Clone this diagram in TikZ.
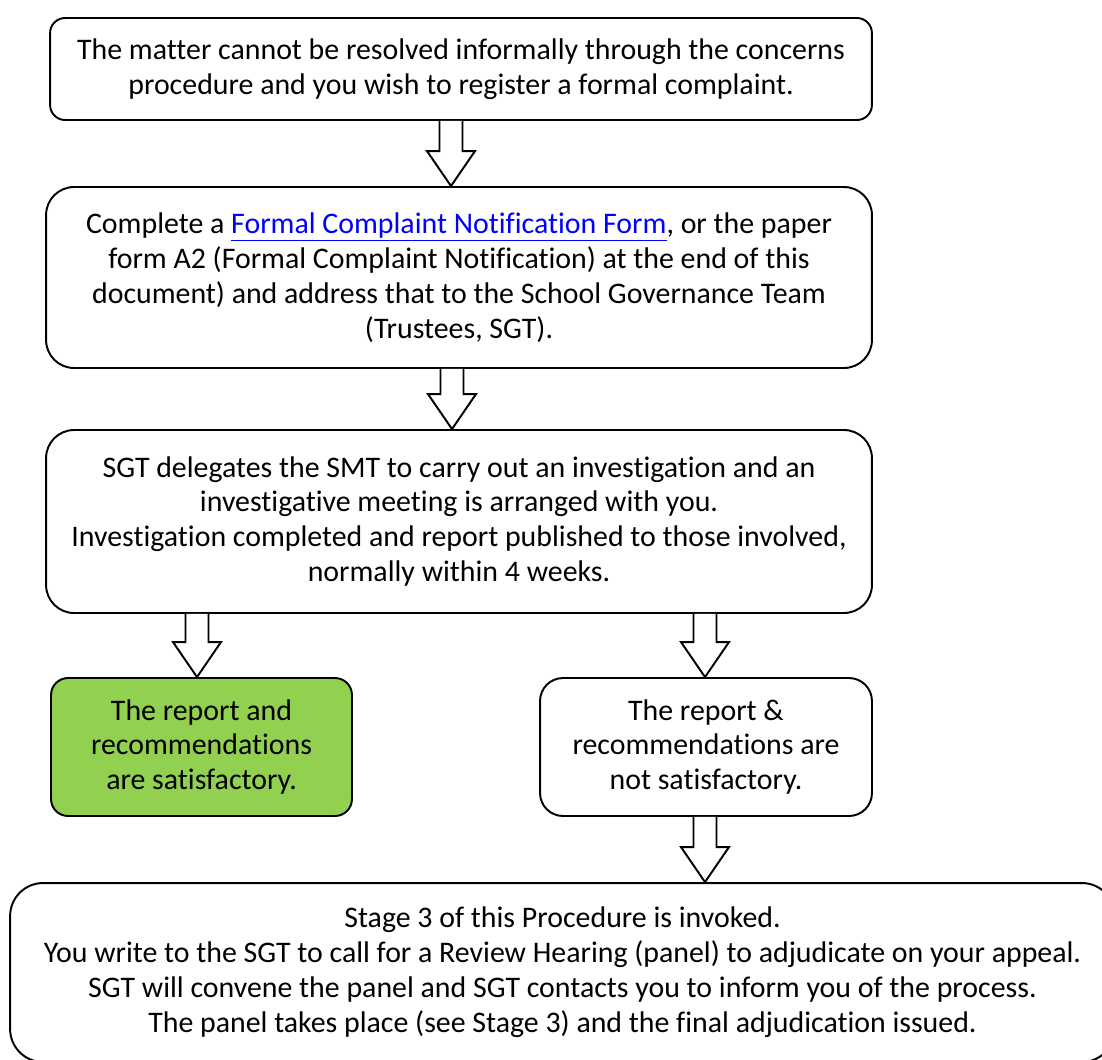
\documentclass[tikz,border=0pt]{standalone}
\usepackage{fontspec}
\setmainfont{Carlito}[Ligatures=NoCommon]
\usetikzlibrary{calc}

\definecolor{okgreen}{HTML}{92D050}
\definecolor{linkblue}{HTML}{0000FF}

\tikzset{
    stepbox/.style={draw, line width=1.1pt, rounded corners=#1, align=center, inner sep=0pt,
        font=\fontsize{17}{19.9}\selectfont},
    stepbox/.default=0.56cm,
    blockarrow/.style={draw, line width=1.1pt, fill=white, line join=miter},
}

% hollow down arrow from one box to the next, at x (px)
\newcommand{\flowarrow}[3]{%
    \draw[blockarrow] let \p1=(#1.south), \p2=(#2.north), \p3=(#3,0) in
        (\x3-0.23cm,\y1) -- (\x3-0.23cm,\y2+0.7cm) -- (\x3-0.48cm,\y2+0.7cm)
        -- (\x3,\y2) -- (\x3+0.48cm,\y2+0.7cm) -- (\x3+0.23cm,\y2+0.7cm)
        -- (\x3+0.23cm,\y1);
}
\newcommand{\weblink}[1]{\textcolor{linkblue}{\underline{#1}}}

\begin{document}
\begin{tikzpicture}[x=0.02cm, y=-0.02cm]
        \useasboundingbox (0,0) rectangle (1102,1059);

        \node[stepbox=0.3cm, minimum width=16.44cm, minimum height=2.04cm] (n1) at (461, 69)
            {The matter cannot be resolved informally through the concerns\\
             procedure and you wish to register a formal complaint.};
        \node[stepbox, minimum width=16.52cm, minimum height=3.62cm] (n2) at (459, 277.5)
            {Complete a \weblink{Formal Complaint Notification Form}, or the paper\\
             form A2 (Formal Complaint Notification) at the end of this\\
             document) and address that to the School Governance Team\\
             (Trustees, SGT).};
        \node[stepbox, minimum width=16.52cm, minimum height=3.66cm] (n3) at (459, 521.5)
            {SGT delegates the SMT to carry out an investigation and an\\
             investigative meeting is arranged with you.\\
             Investigation completed and report published to those involved,\\
             normally within 4 weeks.};
        \node[stepbox=0.34cm, fill=okgreen, minimum width=6.02cm, minimum height=2.76cm] (n4) at (201.5, 747)
            {The report and\\ recommendations\\ are satisfactory.};
        \node[stepbox=0.46cm, minimum width=6.64cm, minimum height=2.76cm] (n5) at (706, 747)
            {The report \&\\ recommendations are\\ not satisfactory.};
        \node[stepbox=0.66cm, minimum width=22.1cm, minimum height=3.58cm] (n6) at (562.5, 972.5)
            {Stage 3 of this Procedure is invoked.\\
             You write to the SGT to call for a Review Hearing (panel) to adjudicate on your appeal.\\
             SGT will convene the panel and SGT contacts you to inform you of the process.\\
             The panel takes place (see Stage 3) and the final adjudication issued.};

        \flowarrow{n1}{n2}{451}
        \flowarrow{n2}{n3}{452}
        \flowarrow{n3}{n4}{197}
        \flowarrow{n3}{n5}{705}
        \flowarrow{n5}{n6}{705}

    \end{tikzpicture}
\end{document}
